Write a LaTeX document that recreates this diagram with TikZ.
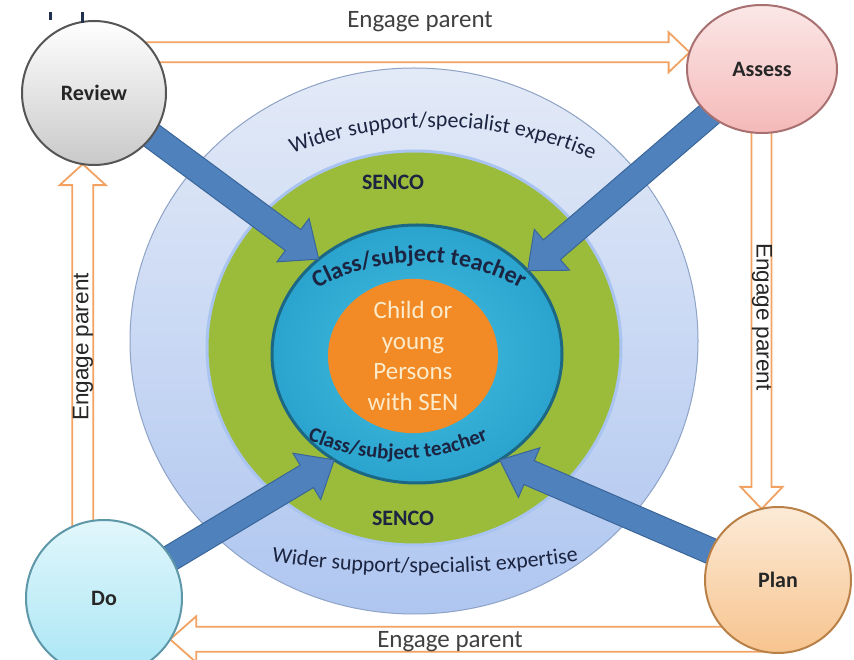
\documentclass[tikz,border=0pt]{standalone}
\usepackage{fontspec}
\setmainfont{Carlito}
\newfontfamily\arialfont{Liberation Sans}
\usetikzlibrary{shapes.geometric,calc,decorations.text}

\definecolor{ringblue}{HTML}{E3EAF7}
\definecolor{ringbluedeep}{HTML}{AFC6F0}
\definecolor{ringedge}{HTML}{8EA3C6}
\definecolor{sencogreen}{HTML}{9BBB3B}
\definecolor{sencoglow}{HTML}{A9C4F0}
\definecolor{teachteal}{HTML}{2AA4CE}
\definecolor{teachlight}{HTML}{45BDE0}
\definecolor{teachedge}{HTML}{1B6784}
\definecolor{childorange}{HTML}{F28A26}
\definecolor{childtext}{HTML}{FCEBCB}
\definecolor{navytext}{HTML}{1B2440}
\definecolor{arrowblue}{HTML}{4F81BD}
\definecolor{arrowedge}{HTML}{3A6599}
\definecolor{engageorange}{HTML}{F2A263}
\definecolor{reviewgray}{HTML}{C9C9C9}
\definecolor{reviewedge}{HTML}{555555}
\definecolor{assesspink}{HTML}{F5B9B9}
\definecolor{assessedge}{HTML}{A87070}
\definecolor{docyan}{HTML}{A9E6F5}
\definecolor{doedge}{HTML}{5E97A8}
\definecolor{planpeach}{HTML}{F7C48E}
\definecolor{planedge}{HTML}{B98048}
\definecolor{marknavy}{HTML}{1F3050}

\pgfdeclarelayer{rings}
\pgfdeclarelayer{links}
\pgfsetlayers{rings,links,main}

% block arrow: style, half shaft, half head, head length, from, to
\newcommand{\blockarrow}[6]{%
  \coordinate (ba-s) at (#5);
  \coordinate (ba-t) at (#6);
  \coordinate (ba-h) at ($(ba-t)!#4pt!(ba-s)$);
  \draw[#1] ($(ba-s)!#2pt!90:(ba-t)$) -- ($(ba-h)!#2pt!90:(ba-t)$)
    -- ($(ba-h)!#3pt!90:(ba-t)$) -- (ba-t)
    -- ($(ba-h)!#3pt!-90:(ba-t)$) -- ($(ba-h)!#2pt!-90:(ba-t)$)
    -- ($(ba-s)!#2pt!-90:(ba-t)$) -- cycle;}

\begin{document}
\begin{tikzpicture}[x=1pt, y=1pt,
  stage/.style={circle, minimum size=144pt, inner sep=0pt, outer sep=0pt, line width=2pt, text=black!85, font=\fontsize{22}{26}\selectfont\bfseries},
  fatblue/.style={fill=arrowblue, draw=arrowedge, line width=1pt},
  engage/.style={fill=white, draw=engageorange, line width=1.8pt},
  engagetext/.style={font=\fontsize{25}{28}\selectfont, text=black!75},
  sidetext/.style={font=\arialfont\fontsize{22.5}{26}\selectfont, text=black!85},
  ringtext/.style={font=\fontsize{22}{26}\selectfont\bfseries, text=navytext}]
\useasboundingbox (0,0) rectangle (854,659);

% Cycle stages
\node[stage, top color=white, bottom color=reviewgray, draw=reviewedge] (review) at (94,566) {Review};
\node[stage, ellipse, minimum width=150pt, minimum height=128pt, top color=assesspink!35, bottom color=assesspink, draw=assessedge] (assess) at (762,590) {Assess};
\node[stage, minimum size=156pt, top color=docyan!35, bottom color=docyan, draw=doedge] (do) at (104,61) {Do};
\node[stage, minimum size=146pt, top color=planpeach!35, bottom color=planpeach, draw=planedge] (plan) at (778,79) {Plan};

% Rings of support
\begin{pgfonlayer}{rings}
\fill[white] (0,0) rectangle (854,659);
\draw[ringedge, line width=1pt, top color=ringblue, bottom color=ringbluedeep] (414,318) ellipse [x radius=284, y radius=273];
\draw[sencoglow, line width=3pt, fill=sencogreen] (414,311) ellipse [x radius=207, y radius=197];
\node[ellipse, minimum width=290pt, minimum height=258pt, inner sep=0pt, outer sep=0pt, draw=teachedge, line width=3pt, inner color=teachlight, outer color=teachteal] (teacher) at (417,305) {};
\node[ellipse, minimum width=170pt, minimum height=148pt, inner sep=0pt, fill=childorange, text=childtext, align=center, font=\fontsize{25}{30.5}\selectfont] (child) at (413,303) {Child or\\young\\Persons\\with SEN};

% Ring labels
\node[ringtext] (sencotop) at (393,477) {SENCO};
\node[ringtext] (sencobot) at (403,141) {SENCO};
\path[decorate, decoration={text along path, text align=center, text={|\fontsize{22}{26}\selectfont\color{navytext}|Wider support/specialist expertise}}] (436,137) ++(120:395) arc[start angle=120, end angle=58, radius=395];
\path[decorate, decoration={text along path, text align=center, text={|\fontsize{22}{26}\selectfont\color{navytext}|Wider support/specialist expertise}}] (425,1093) ++(258:1007) arc[start angle=258, end angle=282, radius=1007];
\path[decorate, decoration={text along path, text align=center, text={|\fontsize{24}{28}\selectfont\bfseries\color{navytext}|Class/subject teacher}}] (419,188) ++(132:209) arc[start angle=132, end angle=48, radius=209];
\path[decorate, decoration={text along path, text align=center, text={|\fontsize{21}{25}\selectfont\bfseries\color{navytext}|Class/subject teacher}}] (398,423) ++(240:223) arc[start angle=240, end angle=300, radius=223];
\end{pgfonlayer}

% Arrows
\begin{pgfonlayer}{links}
\blockarrow{fatblue}{13}{27}{32}{review}{teacher.136}
\blockarrow{fatblue}{13}{27}{32}{assess}{teacher.37}
\blockarrow{fatblue}{13}{27}{32}{do}{teacher.232}
\blockarrow{fatblue}{13}{27}{32}{plan}{teacher.308}

\blockarrow{engage}{10}{20}{21}{review |- assess.167}{assess.167}
\blockarrow{engage}{10}{21}{22}{plan.103 |- assess}{plan.103}
\blockarrow{engage}{12.5}{23}{26}{plan |- do.-32}{do.-32}
\blockarrow{engage}{10.5}{23}{21}{review.-99 |- do}{review.-99}
\end{pgfonlayer}

% Labels
\node[engagetext] (engtop) at (420,637) {Engage parent};
\node[engagetext] (engbot) at (450,17) {Engage parent};
\node[sidetext, rotate=90] (engleft) at (83,312) {Engage parent};
\node[sidetext, rotate=-90] (engright) at (762,342) {Engage parent};

\draw[marknavy, line width=3pt] (50,647) -- (50,639) (82,647) -- (82,636);
\end{tikzpicture}
\end{document}
